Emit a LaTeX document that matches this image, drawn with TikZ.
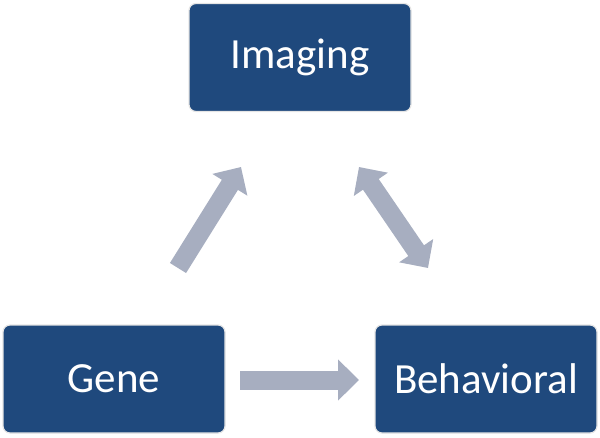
\documentclass[tikz,border=0pt]{standalone}
\usepackage{fontspec}
\setmainfont{Carlito}
\usetikzlibrary{arrows.meta}
\definecolor{boxblue}{HTML}{1F497D}
\definecolor{arrgray}{HTML}{A7AEC0}
\begin{document}
\begin{tikzpicture}[x=1pt,y=-1pt,
  box/.style={fill=boxblue,draw=black!10,line width=1.2pt,rounded corners=7pt,minimum width=222pt,minimum height=108pt,text=white,font=\fontsize{43}{45}\selectfont,inner sep=0pt},
  fat/.style={draw=arrgray,line width=19pt,-{Triangle[width=40pt,length=21pt]}},
  fatboth/.style={draw=arrgray,line width=19pt,{Triangle[width=40pt,length=21pt]}-{Triangle[width=40pt,length=21pt]}}]
\useasboundingbox (0,0) rectangle (600,437);
\node[box] (img) at (300,57.5) {Imaging};
\node[box] (gene) at (114,379) {Gene};
\node[box] (beh) at (486,379) {Behavioral};
\coordinate (a1s) at (178,268);
\coordinate (a1e) at (241,167);
\coordinate (a2s) at (359,167);
\coordinate (a2e) at (428,268);
\coordinate (a3s) at (240,380);
\coordinate (a3e) at (359,380);
\draw[fat] (a1s) -- (a1e);
\draw[fatboth] (a2s) -- (a2e);
\draw[fat] (a3s) -- (a3e);
\end{tikzpicture}
\end{document}
